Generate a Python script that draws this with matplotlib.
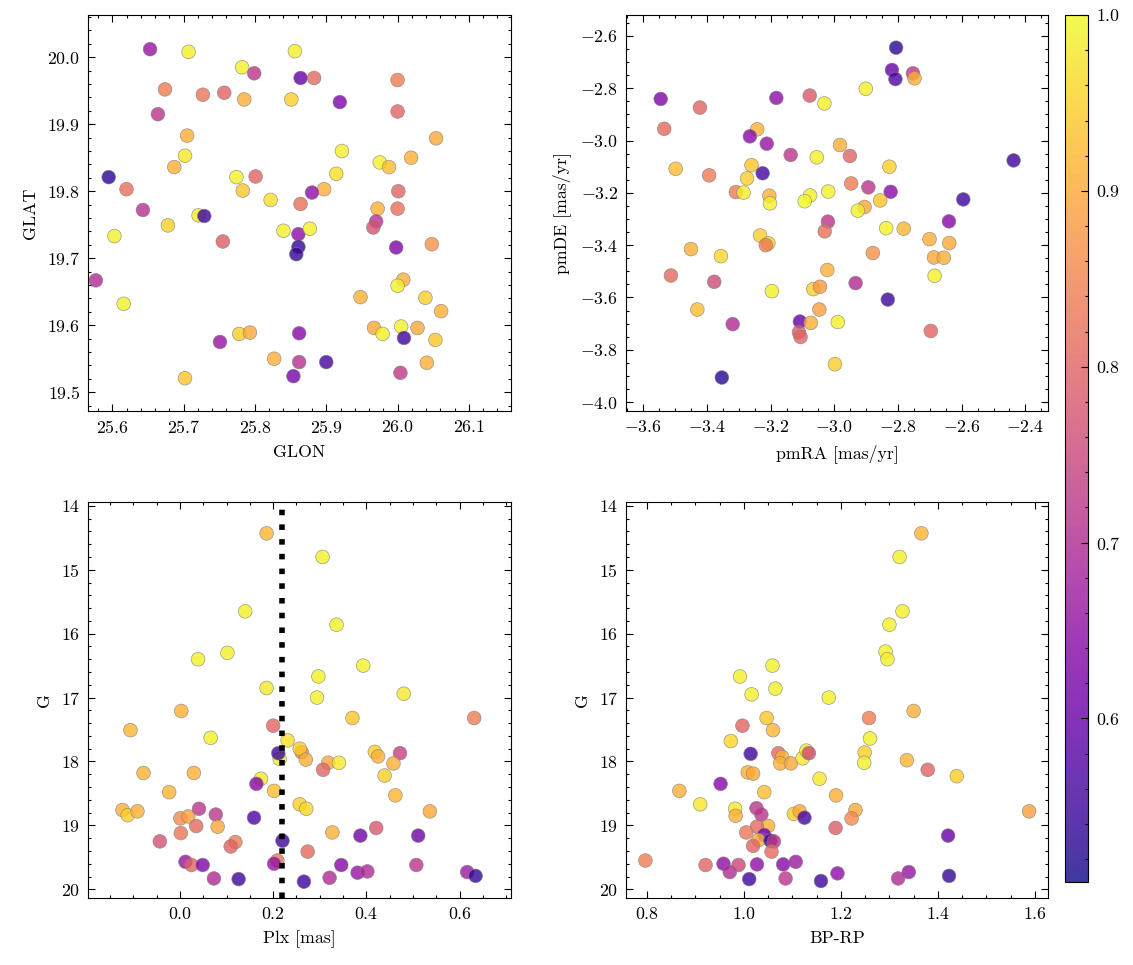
# -*- coding: UTF-8 -*-

"""Sky position, proper motion, parallax and CMD of cluster members,
coloured by membership probability
"""

#+++++++++++++++++++++++++++++++++++++++++++++++++++++++++++++++++++++++++++++#

import numpy as np
import matplotlib
matplotlib.use('Agg')
import matplotlib.pyplot as plt
from matplotlib.colors import Normalize

plt.rcParams.update({
  'font.family' : 'serif',
  'font.serif' : ['cmr10'],
  'mathtext.fontset' : 'cm',
  'axes.formatter.use_mathtext' : True,
  'font.size' : 8,
  'axes.linewidth' : 0.5,
  'xtick.direction' : 'in',
  'ytick.direction' : 'in',
  'xtick.top' : True,
  'ytick.right' : True,
  'xtick.minor.visible' : True,
  'ytick.minor.visible' : True,
  'xtick.major.size' : 3,
  'ytick.major.size' : 3,
  'xtick.minor.size' : 1.5,
  'ytick.minor.size' : 1.5,
  'xtick.major.width' : 0.5,
  'ytick.major.width' : 0.5,
  'xtick.minor.width' : 0.5,
  'ytick.minor.width' : 0.5,
})

#+++++++++++++++++++++++++++++++++++++++++++++++++++++++++++++++++++++++++++++#

# sky positions
glon = [25.653, 25.707, 25.782, 25.799, 25.674, 25.727, 25.757, 25.785, 25.851,
  25.856, 25.864, 25.883, 25.664, 25.705, 25.702, 25.687, 25.595, 25.620,
  25.774, 25.783, 25.801, 25.822, 25.864, 25.643, 25.721, 25.729, 25.678,
  25.603, 25.755, 25.840, 25.861, 25.861, 25.858, 25.577, 25.616, 25.778,
  25.793, 25.751, 25.862, 25.827, 25.854, 25.702,
  25.919, 26.000, 26.000, 26.054, 25.922, 25.914, 25.897, 25.880, 25.877,
  25.975, 25.988, 26.019, 26.001, 25.972, 26.000, 25.970, 25.966, 25.998,
  26.048, 26.008, 26.000, 25.948, 26.039, 26.061, 25.967, 25.979, 26.005,
  26.009, 26.028, 26.053, 25.862, 25.900, 26.041, 26.004]
glat = [20.012, 20.008, 19.985, 19.976, 19.952, 19.944, 19.947, 19.937, 19.937,
  20.009, 19.969, 19.969, 19.915, 19.883, 19.853, 19.836, 19.821, 19.803,
  19.821, 19.801, 19.822, 19.787, 19.781, 19.772, 19.764, 19.763, 19.749,
  19.733, 19.725, 19.741, 19.736, 19.717, 19.706, 19.667, 19.632, 19.587,
  19.589, 19.575, 19.588, 19.550, 19.524, 19.521,
  19.933, 19.966, 19.919, 19.879, 19.860, 19.826, 19.803, 19.798, 19.744,
  19.843, 19.836, 19.850, 19.800, 19.774, 19.774, 19.755, 19.746, 19.716,
  19.721, 19.668, 19.659, 19.642, 19.641, 19.621, 19.596, 19.587, 19.598,
  19.581, 19.596, 19.578, 19.545, 19.545, 19.544, 19.529]
p_sky = [0.66, 0.99, 0.99, 0.72, 0.84, 0.83, 0.80, 0.91, 0.95,
  0.99, 0.60, 0.81, 0.72, 0.91, 0.98, 0.91, 0.53, 0.82,
  0.99, 0.94, 0.80, 0.97, 0.82, 0.71, 0.99, 0.55, 0.95,
  0.99, 0.79, 0.99, 0.65, 0.54, 0.54, 0.70, 0.99, 0.95,
  0.90, 0.66, 0.64, 0.91, 0.62, 0.94,
  0.63, 0.84, 0.80, 0.90, 0.99, 0.97, 0.91, 0.65, 0.99,
  0.99, 0.93, 0.91, 0.80, 0.91, 0.82, 0.71, 0.77, 0.63,
  0.87, 0.91, 0.99, 0.91, 0.95, 0.91, 0.90, 0.99, 0.99,
  0.55, 0.90, 0.94, 0.71, 0.56, 0.91, 0.73]

# proper motions
pmra = [-3.545, -3.422, -3.534, -3.182, -3.077, -3.031, -3.242, -3.265, -3.212,
  -3.137, -3.055, -2.982, -3.498, -3.393, -3.260, -3.225, -3.274, -3.309,
  -3.285, -3.204, -3.202, -3.076, -3.093, -3.019, -3.020, -3.030, -3.233,
  -3.207, -3.215, -3.450, -3.356, -3.513, -3.377, -3.196, -3.022, -3.066,
  -3.045, -3.430, -3.047, -3.319, -3.108, -3.074, -3.111, -3.106, -2.989,
  -2.998, -3.353,
  -2.806, -2.819, -2.808, -2.753, -2.748, -2.901, -2.951, -2.827, -2.947,
  -2.893, -2.823, -2.856, -2.905, -2.926, -2.837, -2.782, -2.595, -2.437,
  -2.640, -2.701, -2.639, -2.687, -2.656, -2.685, -2.879, -2.933, -2.832,
  -2.697]
pmde = [-2.841, -2.874, -2.955, -2.837, -2.828, -2.858, -2.957, -2.984, -3.012,
  -3.055, -3.064, -3.017, -3.108, -3.133, -3.094, -3.125, -3.145, -3.197,
  -3.199, -3.211, -3.240, -3.210, -3.232, -3.195, -3.310, -3.347, -3.363,
  -3.393, -3.400, -3.415, -3.442, -3.516, -3.540, -3.576, -3.495, -3.568,
  -3.559, -3.646, -3.646, -3.702, -3.692, -3.697, -3.733, -3.751, -3.694,
  -3.855, -3.906,
  -2.645, -2.730, -2.765, -2.743, -2.762, -2.802, -3.059, -3.100, -3.164,
  -3.179, -3.196, -3.229, -3.254, -3.268, -3.335, -3.337, -3.225, -3.076,
  -3.309, -3.377, -3.392, -3.447, -3.448, -3.517, -3.430, -3.545, -3.608,
  -3.728]
p_pm = [0.63, 0.80, 0.81, 0.65, 0.78, 0.99, 0.91, 0.64, 0.66,
  0.72, 0.99, 0.91, 0.93, 0.84, 0.94, 0.56, 0.95, 0.84,
  0.99, 0.91, 0.99, 0.99, 1.00, 0.99, 0.72, 0.82, 0.95,
  0.95, 0.84, 0.91, 0.96, 0.81, 0.76, 0.99, 0.91, 0.95,
  0.88, 0.93, 0.89, 0.70, 0.60, 0.91, 0.79, 0.80, 0.99,
  0.95, 0.53,
  0.53, 0.60, 0.57, 0.72, 0.91, 0.99, 0.80, 0.95, 0.84,
  0.72, 0.64, 0.94, 0.90, 0.99, 0.99, 0.92, 0.55, 0.55,
  0.64, 0.91, 0.90, 0.90, 0.91, 0.99, 0.87, 0.70, 0.55,
  0.80]

# parallax vs magnitude
plx = [0.186, 0.140, 0.039, 0.102, 0.186, 0.003, -0.106, 0.066, 0.200, 0.231,
  0.214, 0.211, 0.261, 0.257, 0.270, -0.078, 0.030, 0.174, 0.164, -0.023,
  0.202, 0.257, 0.271, -0.123, -0.112, -0.091, 0.001, 0.018, 0.041, 0.077,
  0.159, 0.035, 0.081, 0.002, -0.043, 0.119, 0.109, 0.220, 0.012, 0.025,
  0.049, 0.209, 0.202, 0.073, 0.126, 0.266, 0.274,
  0.306, 0.336, 0.393, 0.297, 0.294, 0.480, 0.370, 0.631, 0.418, 0.425,
  0.472, 0.318, 0.341, 0.307, 0.458, 0.439, 0.462, 0.536, 0.327, 0.387,
  0.421, 0.511, 0.346, 0.321, 0.381, 0.402, 0.507, 0.616, 0.634]
g_plx = [14.43, 15.65, 16.40, 16.30, 16.85, 17.21, 17.51, 17.63, 17.44, 17.67,
  17.96, 17.87, 17.855, 17.80, 17.97, 18.18, 18.18, 18.27, 18.35, 18.48,
  18.46, 18.67, 18.74, 18.76, 18.84, 18.78, 18.89, 18.86, 18.74, 18.83,
  18.88, 19.01, 19.02, 19.12, 19.25, 19.26, 19.33, 19.24, 19.57, 19.62,
  19.62, 19.55, 19.60, 19.83, 19.84, 19.88, 19.41,
  14.80, 15.86, 16.50, 16.67, 17.00, 16.94, 17.32, 17.32, 17.85, 17.92,
  17.87, 18.02, 18.02, 18.13, 18.03, 18.22, 18.53, 18.78, 19.11, 19.16,
  19.04, 19.16, 19.62, 19.82, 19.74, 19.72, 19.62, 19.73, 19.79]
p_plx = [0.92, 0.99, 0.99, 0.99, 0.98, 0.91, 0.92, 0.99, 0.80, 0.97,
  0.99, 0.55, 0.84, 0.95, 0.91, 0.91, 0.91, 0.98, 0.64, 0.92,
  0.93, 0.95, 0.96, 0.91, 0.95, 0.91, 0.86, 0.89, 0.72, 0.72,
  0.57, 0.81, 0.90, 0.83, 0.77, 0.84, 0.80, 0.55, 0.66, 0.80,
  0.63, 0.83, 0.66, 0.70, 0.55, 0.55, 0.81,
  0.99, 0.99, 0.99, 0.99, 0.99, 0.98, 0.94, 0.84, 0.95, 0.91,
  0.74, 0.90, 0.98, 0.80, 0.91, 0.95, 0.92, 0.90, 0.91, 0.61,
  0.78, 0.61, 0.64, 0.70, 0.66, 0.70, 0.72, 0.67, 0.54]

# colour-magnitude diagram
bprp = [1.059, 0.992, 1.065, 1.016, 1.175, 1.047, 0.997, 1.060, 0.973, 1.014,
  1.071, 1.079, 1.075, 1.097, 1.121, 1.129, 1.134, 1.008, 1.019, 1.156,
  0.952, 0.867, 1.042, 1.190, 0.910, 0.982, 0.983, 1.026, 1.036, 1.103,
  1.115, 1.125, 1.050, 1.027, 1.005, 1.042, 1.030, 1.055, 1.062, 1.019,
  1.057, 1.189, 0.797, 0.921, 0.958, 0.971, 0.989, 1.027, 1.081, 1.107,
  1.086, 1.011, 1.159, 1.193,
  1.366, 1.321, 1.327, 1.300, 1.292, 1.296, 1.350, 1.258, 1.260, 1.249,
  1.248, 1.336, 1.379, 1.439, 1.588, 1.230, 1.222, 1.421, 1.340, 1.318,
  1.423]
g_col = [16.50, 16.67, 16.86, 16.95, 17.00, 17.32, 17.44, 17.51, 17.68, 17.88,
  17.87, 17.93, 18.03, 18.03, 17.95, 17.83, 17.87, 18.17, 18.19, 18.27,
  18.35, 18.46, 18.48, 18.53, 18.67, 18.74, 18.85, 18.73, 18.83, 18.82,
  18.78, 18.88, 19.01, 19.02, 19.11, 19.15, 19.23, 19.24, 19.25, 19.32,
  19.41, 19.04, 19.55, 19.62, 19.60, 19.73, 19.62, 19.61, 19.61, 19.57,
  19.83, 19.84, 19.87, 19.75,
  14.43, 14.80, 15.65, 15.86, 16.28, 16.40, 17.21, 17.32, 17.64, 17.86,
  18.02, 17.98, 18.13, 18.23, 18.78, 18.76, 18.89, 19.16, 19.73, 19.83,
  19.79]
p_col = [0.99, 0.99, 0.99, 0.99, 0.99, 0.94, 0.80, 0.92, 0.96, 0.55,
  0.81, 0.91, 0.91, 0.90, 0.98, 0.98, 0.76, 0.91, 0.90, 0.98,
  0.64, 0.91, 0.93, 0.91, 0.98, 0.98, 0.91, 0.72, 0.72, 0.95,
  0.90, 0.56, 0.91, 0.81, 0.83, 0.61, 0.91, 0.55, 0.72, 0.80,
  0.81, 0.79, 0.84, 0.80, 0.65, 0.70, 0.75, 0.65, 0.64, 0.67,
  0.72, 0.55, 0.55, 0.65,
  0.92, 0.99, 0.99, 0.99, 0.99, 0.99, 0.91, 0.84, 0.99, 0.95,
  0.99, 0.92, 0.80, 0.95, 0.89, 0.90, 0.86, 0.60, 0.66, 0.70,
  0.54]

PLX_CUT = 0.218

NORM = Normalize(vmin = 0.507, vmax = 1.0)
SC_KW = dict(cmap = 'plasma', norm = NORM, s = 38, alpha = 0.8,
  edgecolors = 'gray', linewidths = 0.3)

#+++++++++++++++++++++++++++++++++++++++++++++++++++++++++++++++++++++++++++++#

if __name__ == '__main__':

  W, H = 1133, 965
  fig = plt.figure(figsize = (W / 160, H / 160), dpi = 160)

  def box(x0, y0, x1, y1):
    return [x0 / W, 1 - y1 / H, (x1 - x0) / W, (y1 - y0) / H]

  ax1 = fig.add_axes(box(88, 15, 511, 411))
  ax2 = fig.add_axes(box(626, 15, 1048, 411))
  ax3 = fig.add_axes(box(88, 502, 511, 898))
  ax4 = fig.add_axes(box(626, 502, 1048, 898))
  cax = fig.add_axes(box(1065, 15, 1088, 882))

  # 1. sky
  #---------------------------------------------------------------------------#
  sc = ax1.scatter(glon, glat, c = p_sky, **SC_KW)
  ax1.set_xlim(25.566, 26.159)
  ax1.set_ylim(19.472, 20.063)
  ax1.set_xlabel('GLON')
  ax1.set_ylabel('GLAT')

  # 2. proper motion
  #---------------------------------------------------------------------------#
  ax2.scatter(pmra, pmde, c = p_pm, **SC_KW)
  ax2.set_xlim(-3.654, -2.329)
  ax2.set_ylim(-4.034, -2.52)
  ax2.set_xlabel('pmRA [mas/yr]')
  ax2.set_ylabel('pmDE [mas/yr]')

  # 3. parallax
  #---------------------------------------------------------------------------#
  ax3.scatter(plx, g_plx, c = p_plx, **SC_KW)
  ax3.axvline(PLX_CUT, color = 'k', ls = ':', lw = 2.5)
  ax3.set_xlim(-0.197, 0.71)
  ax3.set_ylim(20.136, 13.94)
  ax3.set_xlabel('Plx [mas]')
  ax3.set_ylabel('G')

  # 4. CMD
  #---------------------------------------------------------------------------#
  ax4.scatter(bprp, g_col, c = p_col, **SC_KW)
  ax4.set_xlim(0.757, 1.627)
  ax4.set_ylim(20.136, 13.94)
  ax4.set_xlabel('BP-RP')
  ax4.set_ylabel('G')

  cb = fig.colorbar(sc, cax = cax)
  cb.outline.set_linewidth(0.5)
  cb.set_ticks([0.6, 0.7, 0.8, 0.9, 1.0])
  cb.ax.minorticks_on()
  cb.ax.tick_params(direction = 'in')

  plt.savefig('out.png', dpi = 160)
  plt.close()
